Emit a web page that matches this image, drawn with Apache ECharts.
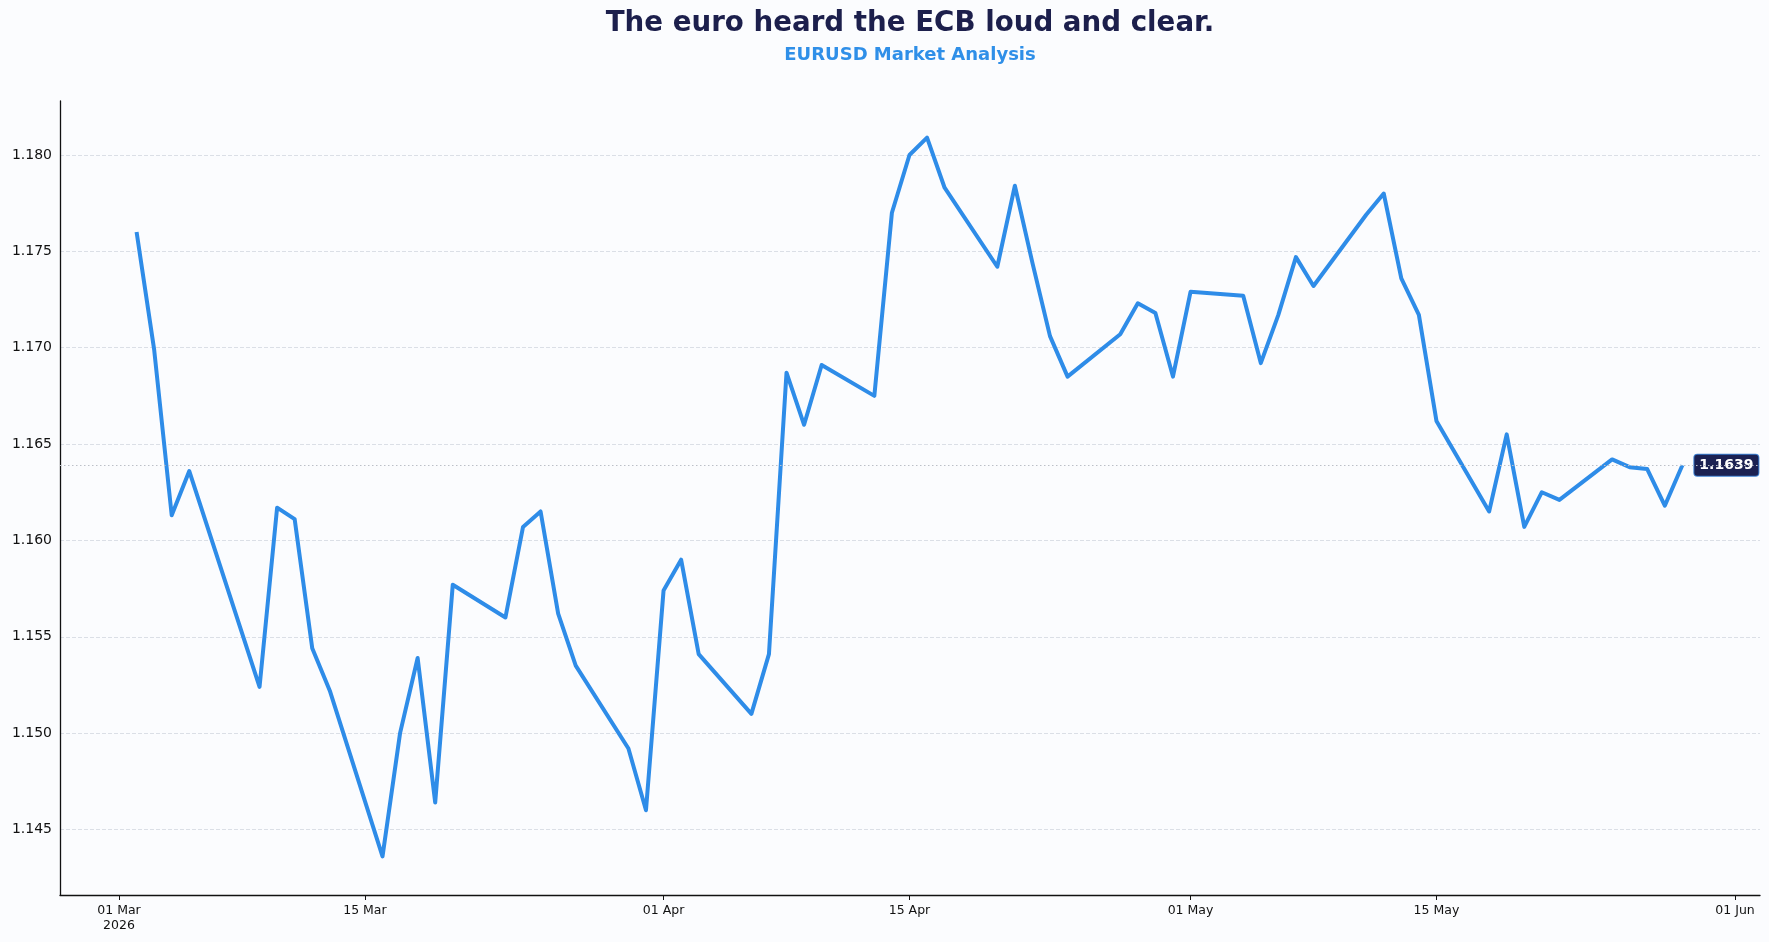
<!DOCTYPE html>
<html>
<head>
<meta charset="utf-8">
<script src="https://cdn.jsdelivr.net/npm/echarts@6/dist/echarts.min.js"></script>
<style>
  html, body { margin: 0; padding: 0; background: #fbfcfe; }
  #chart { width: 1769px; height: 942px; }
</style>
</head>
<body>
<div id="chart"></div>
<script>
// EURUSD daily closes
var dates = [
  '2026-03-02', '2026-03-03', '2026-03-04', '2026-03-05', '2026-03-09', '2026-03-10',
  '2026-03-11', '2026-03-12', '2026-03-13', '2026-03-16', '2026-03-17', '2026-03-18',
  '2026-03-19', '2026-03-20', '2026-03-23', '2026-03-24', '2026-03-25', '2026-03-26',
  '2026-03-27', '2026-03-30', '2026-03-31', '2026-04-01', '2026-04-02', '2026-04-03',
  '2026-04-06', '2026-04-07', '2026-04-08', '2026-04-09', '2026-04-10', '2026-04-13',
  '2026-04-14', '2026-04-15', '2026-04-16', '2026-04-17', '2026-04-20', '2026-04-21',
  '2026-04-22', '2026-04-23', '2026-04-24', '2026-04-27', '2026-04-28', '2026-04-29',
  '2026-04-30', '2026-05-01', '2026-05-04', '2026-05-05', '2026-05-06', '2026-05-07',
  '2026-05-08', '2026-05-11', '2026-05-12', '2026-05-13', '2026-05-14', '2026-05-15',
  '2026-05-18', '2026-05-19', '2026-05-20', '2026-05-21', '2026-05-22', '2026-05-25',
  '2026-05-26', '2026-05-27', '2026-05-28', '2026-05-29'
];
var closes = [
  1.1760, 1.1699, 1.1613, 1.1636, 1.1524, 1.1617,
  1.1611, 1.1544, 1.1522, 1.1436, 1.1500, 1.1539,
  1.1464, 1.1577, 1.1560, 1.1607, 1.1615, 1.1562,
  1.1535, 1.1492, 1.1460, 1.1574, 1.1590, 1.1541,
  1.1510, 1.1541, 1.1687, 1.1660, 1.1691, 1.1675,
  1.1770, 1.1800, 1.1809, 1.1783, 1.1742, 1.1784,
  1.1744, 1.1706, 1.1685, 1.1707, 1.1723, 1.1718,
  1.1685, 1.1729, 1.1727, 1.1692, 1.1717, 1.1747,
  1.1732, 1.1769, 1.1780, 1.1736, 1.1717, 1.1662,
  1.1615, 1.1655, 1.1607, 1.1625, 1.1621, 1.1642,
  1.1638, 1.1637, 1.1618, 1.1639
];
var yTicks = [1.145, 1.150, 1.155, 1.160, 1.165, 1.170, 1.175, 1.180];
var xTicks = ['2026-03-01', '2026-03-15', '2026-04-01', '2026-04-15', '2026-05-01', '2026-05-15', '2026-06-01'];
var monthNames = ['Jan', 'Feb', 'Mar', 'Apr', 'May', 'Jun', 'Jul', 'Aug', 'Sep', 'Oct', 'Nov', 'Dec'];
var lastPrice = closes[closes.length - 1];

function toTime(s) {
  var p = s.split('-');
  return Date.UTC(+p[0], +p[1] - 1, +p[2]);
}

var DAY = 86400000;
var xTickTimes = xTicks.map(toTime);
var seriesData = dates.map(function (d, i) { return [toTime(d), closes[i]]; });

var dom = document.getElementById('chart');
var myChart = echarts.init(dom, null, { renderer: 'canvas' });

var font = 'DejaVu Sans';
var gridLeft = 60, gridRight = 9;
// titles sit over the middle of the plot area, not the page
var plotCenter = gridLeft + (1769 - gridLeft - gridRight) / 2 - 5;

var option = {
  backgroundColor: '#fbfcfe',
  animation: false,
  title: [
    {
      text: 'The euro heard the ECB loud and clear.',
      left: plotCenter,
      textAlign: 'center',
      top: 5,
      textStyle: { fontFamily: font, fontSize: 27.7, fontWeight: 'bold', color: '#1c1f4c' }
    },
    {
      text: 'EURUSD Market Analysis',
      left: plotCenter,
      textAlign: 'center',
      top: 41,
      textStyle: { fontFamily: font, fontSize: 18, fontWeight: 'bold', color: '#2f8fe8' }
    }
  ],
  grid: { left: gridLeft, right: gridRight, top: 101, bottom: 47 },
  xAxis: {
    // timestamps on a value axis so the tick dates can be fixed
    type: 'value',
    min: xTickTimes[0] - 3.36 * DAY,
    max: xTickTimes[xTickTimes.length - 1] + 1.42 * DAY,
    axisLine: { onZero: false, lineStyle: { color: '#111', width: 1.3 } },
    axisTick: { show: true, length: 5, customValues: xTickTimes, lineStyle: { color: '#111' } },
    splitLine: { show: false },
    axisLabel: {
      customValues: xTickTimes,
      fontFamily: font,
      fontSize: 12.5,
      color: '#111',
      margin: 8,
      lineHeight: 15,
      formatter: function (v) {
        var d = new Date(v);
        var dd = String(d.getUTCDate()).padStart(2, '0');
        var s = dd + ' ' + monthNames[d.getUTCMonth()];
        if (v === xTickTimes[0]) s += '\n' + d.getUTCFullYear();
        return s;
      }
    }
  },
  yAxis: {
    type: 'value',
    min: 1.1416,
    max: 1.1828,
    axisLine: { show: true, lineStyle: { color: '#111', width: 1.3 } },
    axisTick: { show: false, customValues: yTicks },
    axisLabel: {
      customValues: yTicks,
      fontFamily: font,
      fontSize: 14,
      color: '#111',
      margin: 8,
      formatter: function (v) { return v.toFixed(3); }
    },
    splitLine: {
      show: true,
      lineStyle: { color: '#d3d7df', width: 0.8, type: [4, 2] }
    }
  },
  series: [
    {
      // reference line for the last close, kept under the price line and badge
      type: 'line',
      z: 1,
      data: [],
      markLine: {
        silent: true,
        symbol: 'none',
        precision: 4,
        label: { show: false },
        lineStyle: { color: '#bcc0c8', width: 1, type: [1.5, 2.5] },
        data: [{ yAxis: lastPrice }]
      }
    },
    {
      type: 'line',
      z: 3,
      data: seriesData,
      showSymbol: false,
      symbol: 'none',
      lineStyle: { color: '#2e8ce8', width: 4, join: 'round' },
      endLabel: {
        show: true,
        distance: 12,
        formatter: function () { return lastPrice.toFixed(4); },
        fontFamily: font,
        fontSize: 14,
        fontWeight: 'bold',
        color: '#ffffff',
        backgroundColor: '#1b2152',
        borderColor: '#3d7fd0',
        borderWidth: 1,
        borderRadius: 3,
        padding: [4, 5, 3, 5]
      }
    }
  ]
};

myChart.setOption(option);
window.addEventListener('resize', myChart.resize);
</script>
</body>
</html>
